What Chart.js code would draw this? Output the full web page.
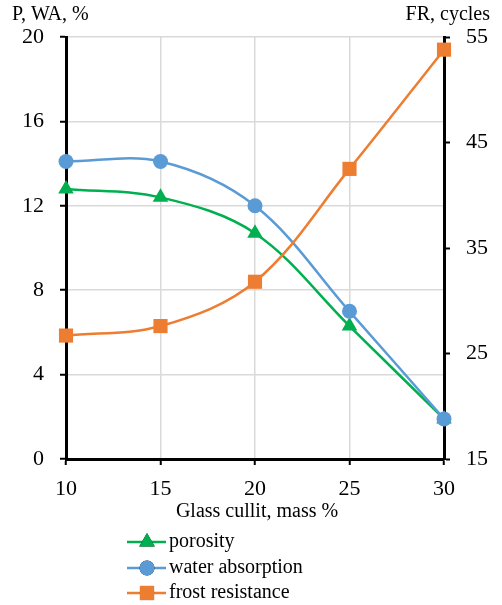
<!DOCTYPE html>
<html>
<head>
<meta charset="utf-8">
<script src="https://cdn.jsdelivr.net/npm/chart.js@4/dist/chart.umd.min.js"></script>
<style>
	html, body { margin: 0; padding: 0; background: #fff; }
	#wrap { width: 502px; height: 605px; position: relative; }
</style>
</head>
<body>
<div id="wrap"><canvas id="c"></canvas></div>
<script>
// glass cullit content, mass %
const cullet = [10, 15, 20, 25, 30];
const porosity = [12.8, 12.4, 10.7, 6.3, 1.9];
const waterAbsorption = [14.1, 14.1, 12.0, 7.0, 1.9];
const frostResistance = [26.7, 27.6, 31.8, 42.5, 53.8];
const leftTicks = [0, 4, 8, 12, 16, 20];
const rightTicks = [15, 25, 35, 45, 55];

const FONT = "'Liberation Serif', 'DejaVu Serif', serif";
const GREEN = '#00B050', BLUE = '#5B9BD5', ORANGE = '#ED7D31';

function pts(ys) {
	return cullet.map(function (x, i) { return {x: x, y: ys[i]}; });
}

// axis titles and the line+marker legend are drawn by hand
const extras = {
	id: 'extras',
	afterDraw: function (chart) {
		const ctx = chart.ctx;
		ctx.save();
		ctx.fillStyle = '#000';
		ctx.font = '20px ' + FONT;
		ctx.textBaseline = 'middle';
		ctx.textAlign = 'left';
		ctx.fillText('P, WA, %', 12, 15);
		ctx.textAlign = 'right';
		ctx.fillText('FR, cycles', 490, 15);
		ctx.textAlign = 'center';
		ctx.fillText('Glass cullit, mass %', 257, 512);

		const rows = [542, 568, 593];
		chart.data.datasets.forEach(function (ds, i) {
			const y = rows[i];
			ctx.strokeStyle = ds.borderColor;
			ctx.lineWidth = 2.5;
			ctx.beginPath();
			ctx.moveTo(127, y);
			ctx.lineTo(166, y);
			ctx.stroke();
			Chart.helpers.drawPoint(ctx, {
				pointStyle: ds.pointStyle,
				radius: ds.pointRadius,
				borderWidth: 0,
				rotation: 0
			}, 147, y);
			ctx.fillStyle = ds.backgroundColor;
			ctx.fill();
			ctx.fillStyle = '#000';
			ctx.textAlign = 'left';
			ctx.fillText(ds.label, 169, y);
		});
		ctx.restore();
	}
};

new Chart(document.getElementById('c'), {
	type: 'line',
	data: {
		datasets: [{
			label: 'porosity',
			data: pts(porosity),
			yAxisID: 'y',
			borderColor: GREEN,
			backgroundColor: GREEN,
			pointStyle: 'triangle',
			pointRadius: 9,
			order: 3
		}, {
			label: 'water absorption',
			data: pts(waterAbsorption),
			yAxisID: 'y',
			borderColor: BLUE,
			backgroundColor: BLUE,
			pointStyle: 'circle',
			pointRadius: 7.5,
			order: 2
		}, {
			label: 'frost resistance',
			data: pts(frostResistance),
			yAxisID: 'y1',
			borderColor: ORANGE,
			backgroundColor: ORANGE,
			pointStyle: 'rect',
			pointRadius: 10,
			order: 1
		}]
	},
	options: {
		responsive: true,
		maintainAspectRatio: false,
		animation: false,
		layout: { padding: { top: 37, bottom: 106, left: 0, right: 0 } },
		elements: {
			line: { borderWidth: 2.5, tension: 0.35, fill: false },
			point: { borderWidth: 0, hoverRadius: 0 }
		},
		datasets: { line: { clip: false } },
		plugins: { legend: { display: false }, tooltip: { enabled: false } },
		scales: {
			x: {
				type: 'linear',
				min: 10, max: 30,
				afterBuildTicks: function (s) { s.ticks = cullet.map(function (v) { return {value: v}; }); },
				afterFit: function (s) { s.height = 40; },
				grid: { color: '#d9d9d9', lineWidth: 1.5, tickColor: '#000', tickLength: 6, tickWidth: 2 },
				border: { color: '#000', width: 3 },
				ticks: { color: '#000', font: { family: FONT, size: 22 }, padding: 11, maxRotation: 0 }
			},
			y: {
				position: 'left',
				min: 0, max: 20,
				afterBuildTicks: function (s) { s.ticks = leftTicks.map(function (v) { return {value: v}; }); },
				afterFit: function (s) { s.width = 66; },
				grid: { color: '#d9d9d9', lineWidth: 1.5, tickColor: '#000', tickLength: 6, tickWidth: 2 },
				border: { color: '#000', width: 3 },
				ticks: { color: '#000', font: { family: FONT, size: 22 }, padding: 16 }
			},
			y1: {
				position: 'right',
				min: 15, max: 55,
				afterBuildTicks: function (s) { s.ticks = rightTicks.map(function (v) { return {value: v}; }); },
				afterFit: function (s) { s.width = 58; },
				grid: { drawOnChartArea: false, tickColor: '#000', tickLength: 6, tickWidth: 2 },
				border: { color: '#000', width: 3 },
				ticks: { color: '#000', font: { family: FONT, size: 22 }, padding: 16 }
			}
		}
	},
	plugins: [extras]
});
</script>
</body>
</html>
